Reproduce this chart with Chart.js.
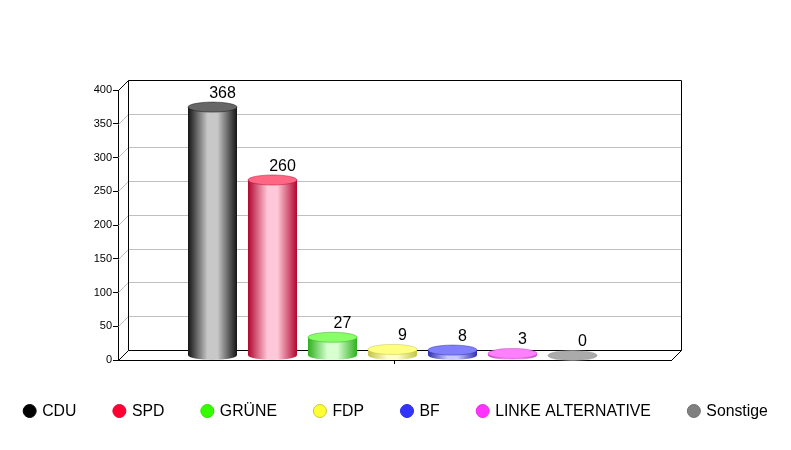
<!DOCTYPE html>
<html lang="en">
<head>
<meta charset="UTF-8">
<title>Sitzverteilung</title>
<style>
    html, body { margin: 0; background: #fff; overflow: hidden; }
    canvas { display: block; }
</style>
<script src="https://cdn.jsdelivr.net/npm/chart.js@4/dist/chart.umd.js"></script>
</head>
<body>
<canvas id="seats" width="791" height="450"></canvas>
<script>
const parties = ['CDU', 'SPD', 'GRÜNE', 'FDP', 'BF', 'LINKE ALTERNATIVE', 'Sonstige'];
const seats = [368, 260, 27, 9, 8, 3, 0];
const yTicks = [0, 50, 100, 150, 200, 250, 300, 350, 400];

const legendColors = ['#000000', '#ff0033', '#33ff00', '#ffff33', '#3333ff', '#ff33ff', '#808080'];
const legendBorders = ['#000000', '#e0002d', '#2cdc00', '#c8c832', '#2d2de0', '#e02de0', '#707070'];
const edgeColors = ['#141414', '#b2062f', '#2fb01f', '#c4c44a', '#3030b0', '#c040c0', '#888888'];
const lightColors = ['#c8c8c8', '#ffc8d8', '#d8ffd0', '#ffffc8', '#c8c8ff', '#ffc0ff', '#aaaaaa'];
const topColors = ['#666666', '#ff6684', '#88ff66', '#ffff80', '#8080ff', '#ff80ff', '#aaaaaa'];

const DEPTH = 10;
const BAR_SHIFT = -2;

// draws the 3D wall and floor behind the bars
const wallPlugin = {
    id: 'wall',
    beforeDatasetsDraw(chart) {
        const ctx = chart.ctx;
        const { left, right, top, bottom } = chart.chartArea;
        const y = chart.scales.y;
        ctx.save();
        ctx.lineWidth = 1;
        ctx.translate(0.5, 0.5);
        yTicks.forEach(v => {
            if (v === 0 || v === 400) return;
            const py = Math.round(y.getPixelForValue(v) - 0.1);
            ctx.strokeStyle = '#c0c0c0';
            ctx.beginPath();
            ctx.moveTo(left, py);
            ctx.lineTo(left + DEPTH, py - DEPTH);
            ctx.lineTo(right + DEPTH, py - DEPTH);
            ctx.stroke();
        });
        ctx.strokeStyle = '#000';
        ctx.beginPath();
        ctx.moveTo(left, top);
        ctx.lineTo(left + DEPTH, top - DEPTH);
        ctx.lineTo(right + DEPTH, top - DEPTH);
        ctx.lineTo(right + DEPTH, bottom - DEPTH);
        ctx.lineTo(right, bottom);
        ctx.moveTo(left, bottom);
        ctx.lineTo(left + DEPTH, bottom - DEPTH);
        ctx.lineTo(right + DEPTH, bottom - DEPTH);
        ctx.moveTo(left + DEPTH, top - DEPTH);
        ctx.lineTo(left + DEPTH, bottom - DEPTH);
        ctx.stroke();
        ctx.restore();
    },
    // replaces the flat bar with a cylinder
    beforeDatasetDraw(chart, args) {
        const ctx = chart.ctx;
        const i = args.index;
        const bar = args.meta.data[0];
        const cx = bar.x + BAR_SHIFT;
        const rx = bar.width / 2;
        const ry = DEPTH / 2;
        const topY = bar.y - ry + 0.5;
        const baseY = bar.base - ry + 0.5;
        ctx.save();
        ctx.lineWidth = 1;
        if (seats[i] > 0) {
            const grad = ctx.createLinearGradient(cx - rx, 0, cx + rx, 0);
            grad.addColorStop(0, edgeColors[i]);
            grad.addColorStop(0.4, lightColors[i]);
            grad.addColorStop(0.6, lightColors[i]);
            grad.addColorStop(1, edgeColors[i]);
            ctx.fillStyle = grad;
            ctx.beginPath();
            ctx.moveTo(cx - rx, topY);
            ctx.lineTo(cx - rx, baseY);
            ctx.ellipse(cx, baseY, rx, ry, 0, Math.PI, 0, true);
            ctx.lineTo(cx + rx, topY);
            ctx.closePath();
            ctx.fill();
        }
        ctx.fillStyle = topColors[i];
        ctx.strokeStyle = seats[i] > 0 ? edgeColors[i] : '#999999';
        ctx.beginPath();
        ctx.ellipse(cx, topY, rx, ry, 0, 0, Math.PI * 2);
        ctx.fill();
        ctx.globalAlpha = 0.5;
        ctx.stroke();
        ctx.restore();
        return false;
    },
    afterDatasetsDraw(chart) {
        const ctx = chart.ctx;
        ctx.save();
        ctx.font = '16px "Liberation Sans"';
        ctx.fillStyle = '#000';
        ctx.textAlign = 'center';
        ctx.textBaseline = 'alphabetic';
        chart.data.datasets.forEach((ds, i) => {
            const bar = chart.getDatasetMeta(i).data[0];
            ctx.fillText(ds.data[0], bar.x + BAR_SHIFT + 10, bar.y - 14);
        });
        ctx.restore();
    },
    // legend row, all entries share the same gap and the row is centred
    afterDraw(chart) {
        const ctx = chart.ctx;
        const gap = 36.5;
        const radius = 6.5;
        const textOffset = 19;
        const legendY = 411;
        ctx.save();
        ctx.font = '15.8px "Liberation Sans"';
        ctx.textBaseline = 'middle';
        const widths = chart.data.datasets.map(ds => textOffset + ctx.measureText(ds.label).width);
        const total = widths.reduce((a, b) => a + b, 0) + gap * (widths.length - 1);
        let x = (chart.width - total) / 2;
        chart.data.datasets.forEach((ds, i) => {
            ctx.beginPath();
            ctx.arc(x + radius, legendY, radius, 0, Math.PI * 2);
            ctx.fillStyle = legendColors[i];
            ctx.strokeStyle = legendBorders[i];
            ctx.fill();
            ctx.stroke();
            ctx.fillStyle = '#000';
            ctx.fillText(ds.label, x + textOffset, legendY + 1);
            x += widths[i] + gap;
        });
        ctx.restore();
    }
};

new Chart(document.getElementById('seats'), {
    type: 'bar',
    data: {
        labels: [''],
        datasets: parties.map((name, i) => ({
            label: name,
            data: [seats[i]],
            backgroundColor: legendColors[i],
            categoryPercentage: 0.7595,
            barPercentage: 0.8167
        }))
    },
    options: {
        responsive: false,
        animation: false,
        layout: { padding: { top: 90, right: 120, left: 0, bottom: 0 } },
        plugins: { legend: { display: false }, tooltip: { enabled: false } },
        scales: {
            x: {
                afterFit(scale) { scale.height = 90; },
                grid: { offset: false, drawOnChartArea: false, color: '#000', tickLength: 4 },
                border: { color: '#000' },
                ticks: { display: false }
            },
            y: {
                min: 0,
                max: 400,
                afterFit(scale) { scale.width = 118; },
                afterBuildTicks(scale) { scale.ticks = yTicks.map(v => ({ value: v })); },
                grid: { drawOnChartArea: false, color: '#000', tickLength: 5 },
                border: { color: '#000' },
                ticks: { color: '#000', padding: 1, font: { family: '"Liberation Sans"', size: 11 } }
            }
        }
    },
    plugins: [wallPlugin]
});
</script>
</body>
</html>
